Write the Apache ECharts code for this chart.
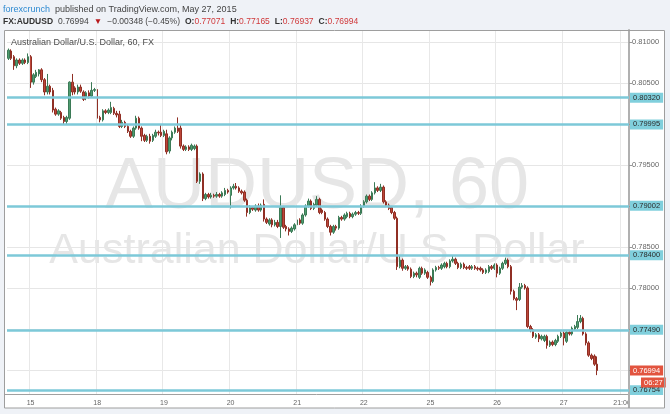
<!DOCTYPE html>
<html><head><meta charset="utf-8">
<script src="https://cdn.jsdelivr.net/npm/echarts@6/dist/echarts.min.js"></script>
<style>html,body{margin:0;padding:0;background:#eff2f7}#c{width:670px;height:414px}</style>
</head><body><div id="c"></div>
<script>
// ---- data ----
const tradingDays = ['15','18','19','20','21','22','25','26','27'];
const timeTickCats = ['15 00:00','18 00:00','19 00:00','20 00:00','21 00:00','22 00:00','25 00:00','26 00:00','27 00:00','27 21:00'];
const timeTickLabels = ['15','18','19','20','21','22','25','26','27','21:00'];
const priceTicks = [0.770,0.775,0.780,0.785,0.790,0.795,0.800,0.805,0.810];
const levels = [0.80320,0.79995,0.79002,0.78400,0.77490,0.76754];
const lastPrice = 0.76994;
const countdown = '06:27';
// hourly candles: [open, close, low, high]
const candles = [
[0.8080,0.8090,0.8078,0.8092],[0.8089,0.8080,0.8078,0.8091],[0.8082,0.8071,0.8066,0.8084],[0.8071,0.8078,0.8068,0.8080],
[0.8078,0.8074,0.8072,0.8080],[0.8074,0.8078,0.8072,0.8080],[0.8078,0.8075,0.8073,0.8080],[0.8075,0.8082,0.8073,0.8086],
[0.8082,0.8051,0.8044,0.8084],[0.8051,0.8060,0.8048,0.8062],
[0.8058,0.8063,0.8056,0.8066],[0.8061,0.8066,0.8058,0.8067],[0.8066,0.8054,0.8051,0.8068],[0.8054,0.8039,0.8035,0.8056],
[0.8039,0.8046,0.8036,0.8061],[0.8046,0.8039,0.8036,0.8048],[0.8041,0.8017,0.8014,0.8044],[0.8018,0.8012,0.8010,0.8020],
[0.8012,0.8016,0.8010,0.8018],[0.8014,0.8007,0.8005,0.8016],
[0.8008,0.8003,0.7999,0.8010],[0.8003,0.8008,0.8000,0.8010],[0.8007,0.8051,0.8005,0.8052],[0.8051,0.8039,0.8035,0.8061],
[0.8044,0.8039,0.8036,0.8046],[0.8039,0.8045,0.8036,0.8048],[0.8045,0.8040,0.8038,0.8048],[0.8039,0.8030,0.8028,0.8041],
[0.8032,0.8038,0.8029,0.8040],[0.8038,0.8034,0.8031,0.8041],
[0.8034,0.8041,0.8032,0.8051],[0.8041,0.8042,0.8039,0.8044],[0.8042,0.8007,0.8002,0.8044],[0.8008,0.8005,0.8002,0.8010],
[0.8005,0.8016,0.8003,0.8018],[0.8016,0.8014,0.8012,0.8018],[0.8014,0.8017,0.8012,0.8019],[0.8014,0.8020,0.8012,0.8027],
[0.8019,0.8013,0.8011,0.8021],[0.8013,0.8011,0.8008,0.8016],
[0.8012,0.7997,0.7995,0.8016],[0.7997,0.8002,0.7995,0.8005],[0.8002,0.7997,0.7995,0.8004],[0.7997,0.7991,0.7989,0.7999],
[0.7991,0.7985,0.7983,0.7993],[0.7985,0.7995,0.7983,0.7997],[0.7995,0.8007,0.7993,0.8010],[0.8007,0.7995,0.7993,0.8009],
[0.7995,0.7985,0.7979,0.7997],[0.7986,0.7980,0.7978,0.7988],
[0.7980,0.7985,0.7978,0.7987],[0.7985,0.7979,0.7976,0.7988],[0.7980,0.7986,0.7978,0.7988],[0.7985,0.7990,0.7983,0.7993],
[0.7990,0.7989,0.7986,0.7992],[0.7990,0.7986,0.7984,0.7999],[0.7986,0.7991,0.7984,0.7993],[0.7988,0.7966,0.7963,0.7993],
[0.7967,0.7983,0.7964,0.7985],[0.7983,0.7990,0.7980,0.7992],
[0.7990,0.7995,0.7988,0.7997],[0.7995,0.7991,0.7989,0.8008],[0.7995,0.7973,0.7970,0.7999],[0.7973,0.7969,0.7967,0.7975],
[0.7969,0.7972,0.7967,0.7974],[0.7972,0.7969,0.7967,0.7974],[0.7969,0.7974,0.7967,0.7976],[0.7970,0.7973,0.7968,0.7975],
[0.7973,0.7930,0.7928,0.7975],[0.7930,0.7939,0.7927,0.7941],
[0.7939,0.7909,0.7906,0.7941],[0.7909,0.7914,0.7907,0.7916],[0.7914,0.7911,0.7909,0.7916],[0.7911,0.7913,0.7909,0.7916],
[0.7913,0.7912,0.7910,0.7915],[0.7912,0.7914,0.7910,0.7917],[0.7914,0.7912,0.7910,0.7916],[0.7912,0.7916,0.7910,0.7918],
[0.7914,0.7919,0.7912,0.7922],[0.7919,0.7917,0.7915,0.7921],
[0.7913,0.7922,0.7897,0.7924],[0.7922,0.7924,0.7920,0.7927],[0.7924,0.7922,0.7920,0.7928],[0.7922,0.7918,0.7916,0.7924],
[0.7918,0.7916,0.7914,0.7920],[0.7917,0.7907,0.7905,0.7919],[0.7907,0.7892,0.7887,0.7909],[0.7892,0.7898,0.7890,0.7901],
[0.7898,0.7896,0.7894,0.7900],[0.7895,0.7900,0.7893,0.7902],
[0.7900,0.7895,0.7893,0.7903],[0.7895,0.7901,0.7893,0.7903],[0.7902,0.7884,0.7881,0.7908],[0.7884,0.7880,0.7878,0.7886],
[0.7878,0.7883,0.7876,0.7885],[0.7883,0.7877,0.7874,0.7885],[0.7877,0.7880,0.7875,0.7883],[0.7880,0.7875,0.7873,0.7883],
[0.7875,0.7898,0.7861,0.7913],[0.7898,0.7874,0.7872,0.7900],
[0.7875,0.7872,0.7869,0.7877],[0.7872,0.7869,0.7864,0.7874],[0.7869,0.7873,0.7867,0.7875],[0.7872,0.7877,0.7870,0.7879],
[0.7877,0.7883,0.7875,0.7885],[0.7883,0.7879,0.7877,0.7885],[0.7879,0.7889,0.7877,0.7891],[0.7889,0.7900,0.7887,0.7902],
[0.7900,0.7906,0.7898,0.7909],[0.7906,0.7897,0.7895,0.7908],
[0.7897,0.7902,0.7895,0.7904],[0.7901,0.7908,0.7899,0.7912],[0.7908,0.7892,0.7890,0.7910],[0.7895,0.7892,0.7890,0.7897],
[0.7892,0.7884,0.7882,0.7894],[0.7884,0.7875,0.7873,0.7886],[0.7875,0.7868,0.7864,0.7877],[0.7868,0.7875,0.7866,0.7877],
[0.7875,0.7873,0.7870,0.7877],[0.7873,0.7886,0.7871,0.7888],
[0.7886,0.7884,0.7882,0.7888],[0.7884,0.7889,0.7882,0.7891],[0.7887,0.7891,0.7885,0.7893],[0.7891,0.7887,0.7885,0.7893],
[0.7887,0.7890,0.7885,0.7892],[0.7890,0.7892,0.7888,0.7894],[0.7892,0.7891,0.7889,0.7894],[0.7891,0.7900,0.7889,0.7902],
[0.7900,0.7905,0.7898,0.7907],[0.7905,0.7912,0.7903,0.7914],
[0.7912,0.7908,0.7906,0.7914],[0.7908,0.7916,0.7906,0.7918],[0.7916,0.7922,0.7914,0.7929],[0.7922,0.7919,0.7917,0.7924],
[0.7919,0.7923,0.7917,0.7927],[0.7923,0.7905,0.7903,0.7925],[0.7905,0.7901,0.7899,0.7907],[0.7901,0.7897,0.7895,0.7903],
[0.7898,0.7892,0.7890,0.7900],[0.7892,0.7885,0.7883,0.7894],
[0.7885,0.7826,0.7822,0.7887],[0.7826,0.7834,0.7824,0.7840],[0.7834,0.7824,0.7821,0.7836],[0.7824,0.7826,0.7822,0.7828],
[0.7826,0.7823,0.7821,0.7828],[0.7823,0.7814,0.7812,0.7825],[0.7814,0.7818,0.7812,0.7820],[0.7818,0.7816,0.7813,0.7820],
[0.7813,0.7824,0.7811,0.7826],[0.7824,0.7818,0.7816,0.7826],
[0.7818,0.7822,0.7816,0.7824],[0.7819,0.7813,0.7811,0.7821],[0.7813,0.7808,0.7803,0.7815],[0.7808,0.7822,0.7806,0.7824],
[0.7822,0.7825,0.7820,0.7827],[0.7825,0.7824,0.7822,0.7827],[0.7824,0.7828,0.7822,0.7830],[0.7826,0.7830,0.7824,0.7832],
[0.7830,0.7826,0.7824,0.7832],[0.7826,0.7833,0.7824,0.7835],
[0.7833,0.7835,0.7831,0.7840],[0.7835,0.7830,0.7828,0.7837],[0.7830,0.7825,0.7823,0.7832],[0.7825,0.7829,0.7823,0.7831],
[0.7829,0.7825,0.7823,0.7831],[0.7825,0.7824,0.7822,0.7827],[0.7826,0.7824,0.7822,0.7828],[0.7824,0.7826,0.7822,0.7828],
[0.7826,0.7824,0.7822,0.7828],[0.7824,0.7823,0.7821,0.7826],
[0.7824,0.7822,0.7820,0.7826],[0.7822,0.7819,0.7817,0.7824],[0.7819,0.7822,0.7817,0.7824],[0.7820,0.7826,0.7818,0.7828],
[0.7826,0.7824,0.7822,0.7828],[0.7824,0.7828,0.7822,0.7830],[0.7828,0.7818,0.7813,0.7830],[0.7818,0.7824,0.7816,0.7826],
[0.7824,0.7830,0.7822,0.7832],[0.7830,0.7834,0.7828,0.7837],
[0.7834,0.7826,0.7824,0.7836],[0.7826,0.7796,0.7792,0.7828],[0.7796,0.7787,0.7785,0.7798],[0.7787,0.7785,0.7773,0.7789],
[0.7786,0.7801,0.7784,0.7806],[0.7801,0.7803,0.7799,0.7806],[0.7803,0.7800,0.7798,0.7805],[0.7800,0.7753,0.7751,0.7802],
[0.7753,0.7749,0.7746,0.7755],[0.7749,0.7741,0.7739,0.7751],
[0.7740,0.7743,0.7738,0.7745],[0.7743,0.7738,0.7734,0.7745],[0.7738,0.7741,0.7736,0.7743],[0.7736,0.7741,0.7734,0.7743],
[0.7741,0.7730,0.7726,0.7743],[0.7730,0.7734,0.7728,0.7736],[0.7734,0.7731,0.7729,0.7736],[0.7731,0.7736,0.7729,0.7738],
[0.7735,0.7741,0.7733,0.7743],[0.7741,0.7745,0.7739,0.7747],
[0.7745,0.7739,0.7730,0.7747],[0.7735,0.7746,0.7733,0.7748],[0.7746,0.7744,0.7742,0.7748],[0.7744,0.7751,0.7742,0.7753],
[0.7750,0.7753,0.7748,0.7755],[0.7752,0.7759,0.7750,0.7767],[0.7759,0.7763,0.7757,0.7767],[0.7763,0.7744,0.7742,0.7765],
[0.7744,0.7733,0.7730,0.7746],[0.7733,0.7718,0.7716,0.7735],
[0.7718,0.7714,0.7712,0.7720],[0.7717,0.7707,0.7705,0.7719],[0.77071,0.76994,0.76937,0.77165]
];

// ---- categories (hourly slots) ----
const pad = n => (n < 10 ? '0' : '') + n;
const categories = [];
for (let h = 16; h < 24; h++) categories.push('14 ' + pad(h) + ':00');
for (const d of tradingDays) for (let h = 0; h < 24; h++) categories.push(d + ' ' + pad(h) + ':00');

const FONT = '"Liberation Sans", Arial, sans-serif';
const isTick = (i, v) => timeTickCats.indexOf(v) >= 0;

const chart = echarts.init(document.getElementById('c'), null, {renderer: 'canvas'});
chart.setOption({
  animation: false,
  backgroundColor: '#eff2f7',
  title: [{
    left: 3, top: 1, padding: 0,
    text: '{a|forexcrunch} {b|published on TradingView.com, May 27, 2015}',
    textStyle: {fontWeight: 'normal', rich: {
      a: {color: '#2e8ad1', fontSize: 9, fontWeight: 'normal', fontFamily: FONT},
      b: {color: '#444', fontSize: 9, fontWeight: 'normal', fontFamily: FONT}
    }}
  }, {
    left: 3, top: 13, padding: 0,
    text: '{k|FX:AUDUSD} {n|0.76994} {t|▼} {n|\u22120.00348 (\u22120.45%)} {k|O:}{r|0.77071} {k|H:}{r|0.77165} {k|L:}{r|0.76937} {k|C:}{r|0.76994}',
    textStyle: {fontWeight: 'normal', rich: {
      k: {color: '#333', fontSize: 8.5, fontWeight: 'bold', fontFamily: FONT},
      n: {color: '#444', fontSize: 8.5, fontWeight: 'normal', fontFamily: FONT},
      t: {color: '#b8191c', fontSize: 8.5, fontWeight: 'normal', fontFamily: FONT},
      r: {color: '#d0393b', fontSize: 8.5, fontWeight: 'normal', fontFamily: FONT}
    }}
  }],
  grid: {left: 7, right: 41, top: 30, bottom: 20, containLabel: false},
  xAxis: {
    type: 'category', data: categories, boundaryGap: true, z: 3,
    axisLine: {show: false},
    axisTick: {show: false},
    axisLabel: {
      interval: isTick,
      formatter: v => { const k = timeTickCats.indexOf(v); return k >= 0 ? timeTickLabels[k] : ''; },
      color: '#666', fontSize: 7, margin: 6, fontFamily: FONT
    },
    splitLine: {show: true, interval: isTick, lineStyle: {color: '#e8e8e8', width: 1}}
  },
  yAxis: {
    type: 'value', position: 'right', min: 0.76707, max: 0.81146, scale: true, z: 3,
    splitLine: {show: false},
    axisLine: {show: true, lineStyle: {color: '#b0b0b0', width: 2}},
    axisTick: {show: true, length: 3, customValues: priceTicks, lineStyle: {color: '#999'}},
    axisLabel: {customValues: priceTicks, formatter: v => v.toFixed(5), color: '#666', fontSize: 7.5, margin: 3, fontFamily: FONT}
  },
  series: [{
    type: 'line', data: [], z: 1, silent: true,
    markLine: {
      z: 1, silent: true, symbol: 'none', animation: false, precision: 5,
      label: {show: false},
      lineStyle: {color: '#e6e6e6', width: 1, type: 'solid'},
      data: priceTicks.map(v => ({yAxis: v}))
    }
  }, {
    type: 'candlestick', data: candles, barWidth: 2, z: 2,
    itemStyle: {color: '#4f9c70', color0: '#bd4639', borderColor: '#3b7a56', borderColor0: '#902f24', borderWidth: 1},
    markLine: {
      silent: true, symbol: 'none', animation: false, z: 5, precision: 5,
      lineStyle: {color: '#7dc9d8', width: 2.5, type: 'solid'},
      label: {
        show: true, position: 'end', distance: 1,
        formatter: p => Number(p.value).toFixed(5),
        backgroundColor: '#80cfdc', color: '#2b2b2b', padding: [1, 3, 1, 3],
        fontSize: 7.5, fontFamily: FONT
      },
      data: levels.map(v => ({yAxis: v})).concat([{
        yAxis: lastPrice,
        lineStyle: {color: 'rgba(0,0,0,0)', width: 0},
        label: {backgroundColor: '#e2543f', color: '#fff'}
      }])
    }
  }],
  graphic: [
    {type: 'rect', z: -10, shape: {x: 4, y: 30, width: 661, height: 378}, style: {fill: '#ffffff'}},
    {type: 'text', z: -5, x: 317, y: 188, style: {text: 'AUDUSD, 60', font: '72px ' + FONT, fill: '#e6e6e6', textAlign: 'center', textVerticalAlign: 'middle', align: 'center', verticalAlign: 'middle'}},
    {type: 'text', z: -5, x: 317, y: 251, style: {text: 'Australian Dollar/U.S. Dollar', font: '43px ' + FONT, fill: '#e6e6e6', textAlign: 'center', textVerticalAlign: 'middle', align: 'center', verticalAlign: 'middle'}},
    {type: 'text', z: 6, x: 11, y: 43, style: {text: 'Australian Dollar/U.S. Dollar, 60, FX', font: '9px ' + FONT, fill: '#4d4d4d', textVerticalAlign: 'middle', verticalAlign: 'middle'}},
    {type: 'line', z: 6, shape: {x1: 4, y1: 394.5, x2: 629, y2: 394.5}, style: {stroke: '#a0a0a0', lineWidth: 1}},
    {type: 'rect', z: 10, shape: {x: 628, y: 395, width: 37, height: 13}, style: {fill: '#ffffff'}},
    {type: 'line', z: 11, shape: {x1: 629, y1: 394, x2: 629, y2: 408}, style: {stroke: '#b0b0b0', lineWidth: 2}},
    {type: 'text', z: 11, x: 641, y: 377.5, style: {text: countdown, font: '7.5px ' + FONT, fill: '#fff', backgroundColor: '#e2543f', padding: [1, 3, 1, 3]}},
    {type: 'rect', z: 20, shape: {x: 4.5, y: 30.5, width: 660, height: 377.5}, style: {fill: null, stroke: '#9e9e9e', lineWidth: 1}}
  ]
});
</script></body></html>
